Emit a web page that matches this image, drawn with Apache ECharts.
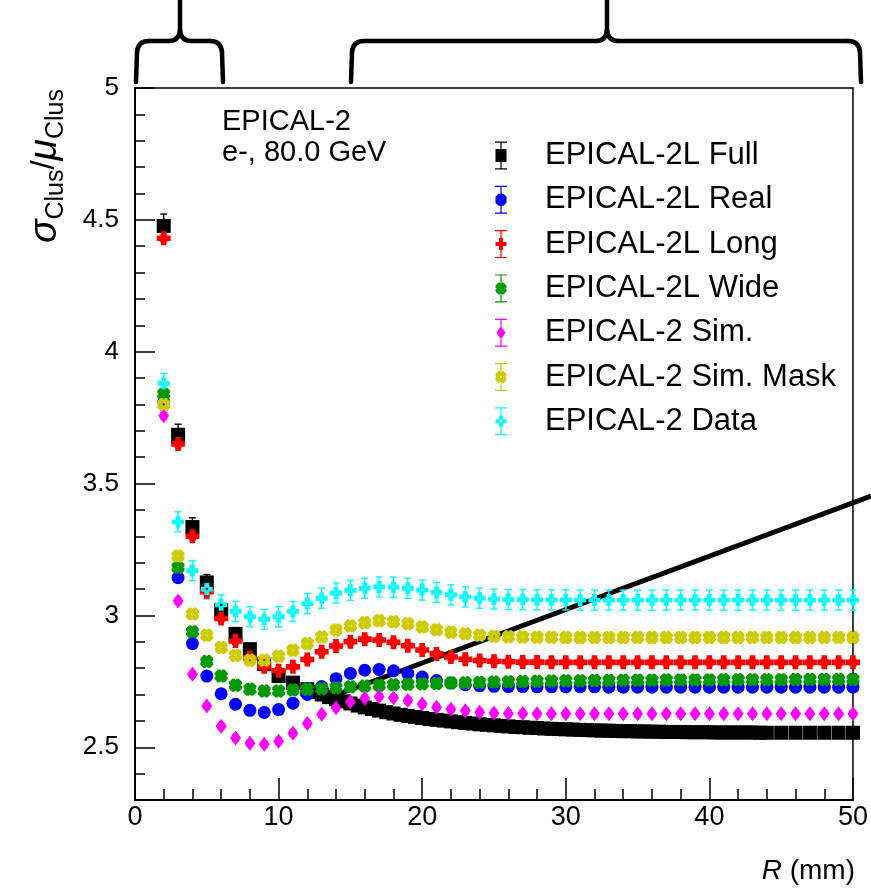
<!DOCTYPE html>
<html><head><meta charset="utf-8">
<script src="https://cdn.jsdelivr.net/npm/echarts@6/dist/echarts.min.js"></script>
<style>html,body{margin:0;padding:0;background:#fff}#c{width:871px;height:891px}</style>
</head><body><div id="c"></div>
<script>
// ---------------- DATA ----------------
const R = [2,3,4,5,6,7,8,9,10,11,12,13,14,15,16,17,18,19,20,21,22,23,24,25,26,27,28,29,30,
           31,32,33,34,35,36,37,38,39,40,41,42,43,44,45,46,47,48,49,50];
const R_FULL = [2,3,4,5,6,7,8,9,10,11,12,
  12.5,13,13.5,14,14.5,15,15.5,16,16.5,17,17.5,18,18.5,19,19.5,20,20.5,21,21.5,22,22.5,23,23.5,24,24.5,25,
  25.5,26,26.5,27,27.5,28,28.5,29,29.5,30,30.5,31,31.5,32,32.5,33,33.5,34,34.5,35,35.5,36,36.5,37,37.5,38,
  38.5,39,39.5,40,40.5,41,41.5,42,42.5,43,43.5,44,45,46,47,48,49,50];
const FULL = [4.477,3.685,3.335,3.125,3.02,2.93,2.872,2.815,2.77,2.745,2.72,
  2.71,2.70,2.69,2.682,2.674,2.666,2.658,2.651,2.645,2.639,2.633,2.628,2.623,2.619,2.615,2.611,2.607,2.604,2.601,2.598,2.595,2.592,2.59,2.587,2.585,2.583,
  2.581,2.579,2.577,2.576,2.574,2.573,2.571,2.57,2.569,2.568,2.567,2.566,2.565,2.564,2.563,2.563,2.562,2.561,2.561,2.56,2.56,2.559,2.559,2.558,2.558,2.558,
  2.557,2.557,2.557,2.557,2.556,2.556,2.556,2.556,2.556,2.556,2.555,2.555,2.555,2.555,2.555,2.555,2.555,2.555];
const REAL = [3.81,3.143,2.893,2.77,2.703,2.663,2.64,2.632,2.643,2.667,2.70,2.73,2.76,2.78,2.792,2.795,2.79,2.779,2.766,2.753,
  2.744,2.737,2.733,2.731,2.73,2.73,2.729,2.729,2.729,
  2.729,2.729,2.728,2.728,2.728,2.728,2.728,2.728,2.728,2.728,2.728,2.728,2.728,2.728,2.728,2.728,2.728,2.728,2.728,2.728];
const LONG = [4.43,3.65,3.30,3.09,2.988,2.903,2.84,2.805,2.79,2.805,2.833,2.862,2.884,2.90,2.91,2.907,2.898,2.885,2.869,2.854,
  2.842,2.834,2.829,2.826,2.824,2.823,2.823,2.822,2.822,
  2.822,2.822,2.822,2.822,2.822,2.822,2.822,2.822,2.822,2.822,2.822,2.822,2.822,2.822,2.822,2.822,2.822,2.822,2.822,2.822];
const WIDE = [3.84,3.182,2.938,2.825,2.77,2.735,2.72,2.713,2.713,2.717,2.72,2.722,2.726,2.729,2.732,2.735,2.737,2.739,2.741,2.742,
  2.744,2.745,2.746,2.747,2.748,2.749,2.75,2.751,2.752,
  2.752,2.753,2.753,2.754,2.754,2.754,2.755,2.755,2.755,2.755,2.756,2.756,2.756,2.756,2.756,2.757,2.757,2.757,2.757,2.757];
const SIM = [3.757,3.055,2.777,2.656,2.58,2.535,2.515,2.511,2.523,2.553,2.59,2.625,2.65,2.673,2.686,2.692,2.688,2.677,2.664,2.652,
  2.644,2.638,2.633,2.63,2.628,2.628,2.627,2.627,2.627,
  2.627,2.627,2.627,2.627,2.627,2.627,2.627,2.627,2.627,2.627,2.627,2.627,2.627,2.627,2.627,2.627,2.627,2.627,2.627,2.627];
const SIMMASK = [3.80,3.225,3.005,2.925,2.878,2.848,2.83,2.83,2.845,2.868,2.893,2.918,2.945,2.96,2.972,2.98,2.976,2.968,2.956,2.946,
  2.936,2.93,2.925,2.921,2.919,2.918,2.917,2.917,2.916,
  2.916,2.916,2.916,2.916,2.916,2.916,2.916,2.916,2.916,2.916,2.916,2.916,2.916,2.916,2.916,2.916,2.916,2.916,2.916,2.916];
const DATA = [3.88,3.355,3.17,3.10,3.04,3.015,2.995,2.985,2.995,3.015,3.045,3.065,3.085,3.095,3.103,3.108,3.107,3.103,3.096,3.087,
  3.078,3.07,3.065,3.062,3.06,3.06,3.059,3.059,3.059,
  3.058,3.058,3.058,3.058,3.058,3.058,3.058,3.058,3.058,3.058,3.058,3.058,3.058,3.058,3.058,3.058,3.058,3.058,3.058,3.058];
// error bars (estimated)
const ERR_FULL_FIRST = [0.045,0.04,0.035,0.03];
const ERR_FULL_REST = 0.012;
const ERR_DATA = 0.038;
const ERR_OTHER = 0.012;

const NAMES = ['EPICAL-2L Full','EPICAL-2L Real','EPICAL-2L Long','EPICAL-2L Wide','EPICAL-2 Sim.','EPICAL-2 Sim. Mask','EPICAL-2 Data'];
const COLORS = ['#000000','#0000ff','#ff0000','#009900','#ff00ff','#cccc00','#00ffff'];
const X_TICKS = [0,10,20,30,40,50];
const Y_TICKS = [2.5,3,3.5,4,4.5,5];

// ---------------- SHAPES ----------------
const PLUS = 'M3,0h4v3h3v4h-3v3h-4v-3h-3v-4h3z';
const CLOVER = 'M2.5,0h1.5l1,1l1,-1h1.5l2.5,2.5v1.5l-1,1l1,1v1.5l-2.5,2.5h-1.5l-1,-1l-1,1h-1.5l-2.5,-2.5v-1.5l1,-1l-1,-1v-1.5z';
const SYMBOLS = [
  {symbol:'rect', size:14},
  {symbol:'circle', size:13},
  {symbol:'path://'+PLUS, size:14},
  {symbol:'path://'+CLOVER, size:13},
  {symbol:'diamond', size:[11,15]},
  {symbol:'path://'+CLOVER+'M4.3,4.3v1.4h1.4v-1.4z', size:13},
  {symbol:'path://'+PLUS+'M4,4v2h2v-2z', size:12}
];
function ibeam(mt, mb){
  return 'M0,0h12v1.2h-12z M5.4,0h1.2v'+mt+'h-1.2z M5.4,'+mb+'h1.2v'+(28-mb)+'h-1.2z M0,26.8h12v1.2h-12z ';
}
const LEG_ICONS = [
  ibeam(7.5,20.5)+'M0.5,7.5h11v13h-11z',
  ibeam(8,20)+'M3.5,8h5l3,3v6l-3,3h-5l-3,-3v-6z',
  ibeam(8,20)+'M4,8h4v4h3.5v4h-3.5v4h-4v-4h-3.5v-4h3.5z',
  ibeam(8,20)+'M3.5,8h1.5l1,1.2l1,-1.2h1.5l3,3v2l-1.2,1l1.2,1v2l-3,3h-1.5l-1,-1.2l-1,1.2h-1.5l-3,-3v-2l1.2,-1l-1.2,-1v-2z',
  ibeam(7.5,20.5)+'M6,7.5l4.5,6.5l-4.5,6.5l-4.5,-6.5z',
  ibeam(8,20)+'M3.5,8h1.5l1,1.2l1,-1.2h1.5l3,3v2l-1.2,1l1.2,1v2l-3,3h-1.5l-1,-1.2l-1,1.2h-1.5l-3,-3v-2l1.2,-1l-1.2,-1v-2z M5.1,13.1v1.8h1.8v-1.8z',
  ibeam(8.5,19.5)+'M4,8.5h4v3.5h3.5v4h-3.5v3.5h-4v-3.5h-3.5v-4h3.5z M5,13v2h2v-2z'
];

const SERIES_X = [R_FULL,R,R,R,R,R,R];
const SERIES_Y = [FULL,REAL,LONG,WIDE,SIM,SIMMASK,DATA];

function errOf(si, i){
  if (si === 0) return i < ERR_FULL_FIRST.length ? ERR_FULL_FIRST[i] : ERR_FULL_REST;
  if (si === 6) return ERR_DATA;
  return ERR_OTHER;
}

const series = [];
SERIES_Y.forEach((ys, si) => {
  const xs = SERIES_X[si], color = COLORS[si];
  series.push({
    type:'custom', name: NAMES[si] + ' (err)', xAxisIndex:0, yAxisIndex:0, silent:true,
    data: xs.map((x,i)=>[x, ys[i], errOf(si,i)]),
    renderItem(params, api){
      const x = api.value(0), y = api.value(1), e = api.value(2);
      const lo = api.coord([x, y-e]), hi = api.coord([x, y+e]);
      const w = 3.5, st = {stroke: color, lineWidth: 1.4};
      return {type:'group', children:[
        {type:'line', shape:{x1:lo[0],y1:lo[1],x2:hi[0],y2:hi[1]}, style:st},
        {type:'line', shape:{x1:lo[0]-w,y1:lo[1],x2:lo[0]+w,y2:lo[1]}, style:st},
        {type:'line', shape:{x1:hi[0]-w,y1:hi[1],x2:hi[0]+w,y2:hi[1]}, style:st}
      ]};
    }
  });
  series.push({
    type:'scatter', name: NAMES[si], xAxisIndex:0, yAxisIndex:0, silent:true,
    symbol: SYMBOLS[si].symbol, symbolSize: SYMBOLS[si].size,
    itemStyle:{color: color, opacity:1},
    data: xs.map((x,i)=>[x, ys[i]])
  });
});

// annotation braces built from line + quadratic curve pieces
const BRACE_STYLE = {stroke:'#000', lineWidth:4.5, fill:null, lineCap:'round'};
function brace(x0, xm, x1){
  const yb = 82, yh = 41, r = 11;
  const els = [];
  const L = (a,b,c,d) => els.push({type:'line', shape:{x1:a,y1:b,x2:c,y2:d}, style:BRACE_STYLE});
  const Q = (a,b,cx,cy,c,d) => els.push({type:'bezierCurve', shape:{x1:a,y1:b,cpx1:cx,cpy1:cy,x2:c,y2:d}, style:BRACE_STYLE});
  L(x0,yb,x0+1,yh+r); Q(x0+1,yh+r,x0+2,yh,x0+2+r,yh); L(x0+2+r,yh,xm-r,yh);
  Q(xm-r,yh,xm-1,yh,xm,yh-r); L(xm,yh-r,xm,0);
  Q(xm,yh-r,xm+1,yh,xm+r,yh); L(xm+r,yh,x1-2-r,yh); Q(x1-2-r,yh,x1-2,yh,x1-1,yh+r); L(x1-1,yh+r,x1,yb);
  return els;
}

const chart = echarts.init(document.getElementById('c'), null, {renderer:'canvas'});
const FONT = '"Liberation Sans", Arial, Helvetica, sans-serif';
const NARROW = '"Liberation Sans Narrow", "Liberation Sans", Arial, sans-serif';

chart.setOption({
  animation:false,
  backgroundColor:'#fff',
  grid:[
    {left:135, top:88, width:720, height:712, show:true, borderColor:'#000', borderWidth:1.5, backgroundColor:'transparent'},
    {left:135, top:88, width:720, height:712*2.5/2.7, show:false}
  ],
  xAxis:[
    {gridIndex:0, type:'value', min:X_TICKS[0], max:X_TICKS[X_TICKS.length-1], interval:10,
     axisLine:{show:true, onZero:false, lineStyle:{color:'#000', width:2}},
     axisTick:{show:true, inside:true, length:22, lineStyle:{color:'#000', width:1.5}},
     minorTick:{show:true, splitNumber:5, length:11, lineStyle:{color:'#000', width:1.5}},
     axisLabel:{color:'#000', fontSize:27, fontFamily:NARROW, margin:4},
     splitLine:{show:false}},
    {gridIndex:1, type:'value', min:0, max:50, show:false}
  ],
  yAxis:[
    {gridIndex:0, type:'value', min:2.3, max:5, interval:0.1,
     axisLine:{show:true, onZero:false, lineStyle:{color:'#000', width:2}},
     axisTick:{show:true, inside:true, length:10, lineStyle:{color:'#000', width:1.5}},
     axisLabel:{show:false}, splitLine:{show:false}},
    {gridIndex:1, type:'value', min:Y_TICKS[0], max:Y_TICKS[Y_TICKS.length-1], interval:0.5,
     axisLine:{show:false},
     axisTick:{show:true, inside:true, length:20, lineStyle:{color:'#000', width:1.5}},
     axisLabel:{color:'#000', fontSize:26, fontFamily:FONT, margin:16,
       formatter: v => (Math.round(v*10)/10).toString()},
     splitLine:{show:false}}
  ],
  legend:{
    orient:'vertical', left:490, top:135, itemWidth:14, itemHeight:28, itemGap:13.3,
    selectedMode:false,
    textStyle:{color:'#000', fontSize:31, fontFamily:FONT, lineHeight:30, padding:[0,0,0,32]},
    data: NAMES.map((n,i)=>({name:n, icon:'path://'+LEG_ICONS[i]}))
  },
  series: series,
  graphic:[
    {type:'text', x:222, y:122, style:{text:'EPICAL-2', fontSize:29, fontFamily:FONT, fill:'#000', verticalAlign:'middle'}},
    {type:'text', x:222, y:153, style:{text:'e-, 80.0 GeV', fontSize:29, fontFamily:FONT, fill:'#000', verticalAlign:'middle'}},
    {type:'text', x:855, y:871, style:{text:'{i|R} (mm)', align:'right', verticalAlign:'middle', fontSize:28, fontFamily:NARROW, fill:'#000',
       rich:{i:{fontStyle:'italic', fontSize:28, fontFamily:NARROW, fill:'#000'}}}},
    {type:'text', x:45, y:89, rotation:Math.PI/2,
     style:{text:'{g|σ}{s|Clus}{n|/}{g|μ}{s|Clus}', align:'right', verticalAlign:'middle', fill:'#000',
       rich:{
         g:{fontSize:39, fontStyle:'italic', fontFamily:FONT, fill:'#000', lineHeight:48, verticalAlign:'middle'},
         n:{fontSize:33, fontFamily:FONT, fill:'#000', lineHeight:48, verticalAlign:'middle'},
         s:{fontSize:25, fontFamily:FONT, fill:'#000', lineHeight:48, verticalAlign:'bottom'}
       }}},
    ...brace(136, 180, 223),
    ...brace(351, 607, 861),
    // arrow annotation
    {type:'line', shape:{x1:871, y1:496, x2:336, y2:695}, style:{stroke:'#000', lineWidth:5}},
    {type:'polygon', shape:{points:[[321,700],[342.6,702],[337,685]]}, style:{fill:'#000'}}
  ]
});
</script></body></html>
